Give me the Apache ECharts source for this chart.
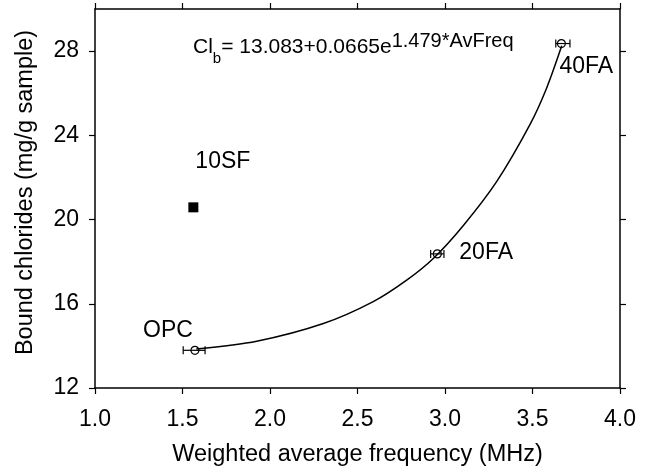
<!DOCTYPE html>
<html>
<head>
<meta charset="utf-8">
<script src="https://cdn.jsdelivr.net/npm/echarts@6/dist/echarts.min.js"></script>
<style>html,body{margin:0;padding:0;background:#fff}#c{width:649px;height:475px}</style>
</head>
<body>
<div id="c"></div>
<script>
// ---- data ----
const xTicks = [1.0, 1.5, 2.0, 2.5, 3.0, 3.5, 4.0];
const yTicks = [12, 16, 20, 24, 28];
const sampleNames = ['OPC', '20FA', '40FA'];
const sampleX = [1.571, 2.956, 3.665];
const sampleY = [13.79, 18.37, 28.36];
const sampleErrLeft = [1.504, 2.918, 3.633];
const sampleErrRight = [1.629, 2.994, 3.714];
const sfName = '10SF';
const sfX = [1.562];
const sfY = [20.58];
// fitted curve, points
const curveX = [1.579, 1.924, 2.305, 2.590, 2.781, 2.933, 3.105, 3.295, 3.486, 3.581, 3.667];
const curveY = [13.85, 14.22, 15.06, 16.10, 17.12, 18.15, 19.72, 21.80, 24.52, 26.25, 28.25];

const FONT = 'Liberation Sans, Arial, sans-serif';
const TXT = '#000';
const labelStyle = {
  'OPC':  {align: 'center', offset: [-27, -20]},
  '20FA': {align: 'left',   offset: [22, -1]},
  '40FA': {align: 'left',   offset: [-2, 23]},
  '10SF': {align: 'left',   offset: [2, -46]}
};
function pointLabel(n) {
  return {show: true, formatter: n, position: 'inside', color: TXT, fontSize: 23, fontFamily: FONT,
          textBorderWidth: 0, align: labelStyle[n].align, verticalAlign: 'middle', offset: labelStyle[n].offset};
}

const chart = echarts.init(document.getElementById('c'), null, {renderer: 'canvas'});

const axisLine = {show: true, onZero: false, lineStyle: {color: '#000', width: 1.5}};
const axisTick = {show: true, inside: false, length: 6, lineStyle: {color: '#000', width: 1.2}};

const sampleData = sampleNames.map((n, i) => ({
  name: n, value: [sampleX[i], sampleY[i]], label: pointLabel(n)
}));
const errData = sampleNames.map((n, i) => [sampleX[i], sampleY[i], sampleErrLeft[i], sampleErrRight[i]]);
const curveData = curveX.map((x, i) => [x, curveY[i]]);

chart.setOption({
  animation: false,
  backgroundColor: '#fff',
  textStyle: {fontFamily: FONT},
  grid: {left: 95, right: 29, top: 9, bottom: 87},
  xAxis: [{
    type: 'value', min: 1, max: 4, interval: 0.5, position: 'bottom',
    name: 'Weighted average frequency (MHz)', nameLocation: 'middle', nameGap: 55,
    nameTextStyle: {fontSize: 23.5, color: TXT, fontFamily: FONT},
    axisLine, axisTick: Object.assign({customValues: xTicks}, axisTick),
    axisLabel: {customValues: xTicks, fontSize: 23, color: TXT, margin: 20, fontFamily: FONT,
                formatter: v => v.toFixed(1)},
    splitLine: {show: false}
  }, {
    type: 'value', min: 1, max: 4, interval: 0.5, position: 'top',
    axisLine, axisTick: Object.assign({customValues: xTicks}, axisTick),
    axisLabel: {show: false}, splitLine: {show: false}
  }],
  yAxis: [{
    type: 'value', min: 12, max: 30, interval: 4, position: 'left',
    name: 'Bound chlorides (mg/g sample)', nameLocation: 'middle', nameGap: 57,
    nameTextStyle: {fontSize: 23.5, color: TXT, fontFamily: FONT, padding: [0, 0, 0, 12]},
    axisLine, axisTick: Object.assign({customValues: yTicks}, axisTick),
    axisLabel: {customValues: yTicks, fontSize: 23, color: TXT, margin: 16, fontFamily: FONT},
    splitLine: {show: false}
  }, {
    type: 'value', min: 12, max: 30, interval: 4, position: 'right',
    axisLine, axisTick: Object.assign({customValues: yTicks}, axisTick),
    axisLabel: {show: false}, splitLine: {show: false}
  }],
  graphic: [{
    type: 'text', left: 193, top: 31, z: 10,
    style: {
      text: '{m|Cl}{s|b}{m|= 13.083+0.0665e}{p|1.479*AvFreq}',
      rich: {
        m: {fontSize: 21, fontFamily: FONT, fill: TXT, verticalAlign: 'bottom', padding: [0, 0, 8, 0]},
        s: {fontSize: 15, fontFamily: FONT, fill: TXT, verticalAlign: 'bottom', padding: [0, 0, 0, 0]},
        p: {fontSize: 20, fontFamily: FONT, fill: TXT, verticalAlign: 'bottom', padding: [0, 0, 15, 0]}
      }
    }
  }],
  series: [{
    type: 'line', data: curveData, smooth: 0.3, showSymbol: false, z: 2,
    lineStyle: {color: '#000', width: 1.5}
  }, {
    type: 'custom', data: errData, z: 3,
    encode: {x: [0, 2, 3], y: 1},
    renderItem: function (params, api) {
      const y = api.value(1);
      const p1 = api.coord([api.value(2), y]);
      const p2 = api.coord([api.value(3), y]);
      const h = 4;
      const st = {stroke: '#000', lineWidth: 1.2};
      return {type: 'group', children: [
        {type: 'line', shape: {x1: p1[0], y1: p1[1], x2: p2[0], y2: p2[1]}, style: st},
        {type: 'line', shape: {x1: p1[0], y1: p1[1] - h, x2: p1[0], y2: p1[1] + h}, style: st},
        {type: 'line', shape: {x1: p2[0], y1: p2[1] - h, x2: p2[0], y2: p2[1] + h}, style: st}
      ]};
    }
  }, {
    type: 'scatter', data: sampleData, symbol: 'circle', symbolSize: 8, z: 4,
    itemStyle: {color: 'rgba(0,0,0,0)', borderColor: '#000', borderWidth: 1.2, opacity: 1}
  }, {
    type: 'scatter', symbol: 'rect', symbolSize: 10, z: 4,
    data: [{name: sfName, value: [sfX[0], sfY[0]], label: pointLabel(sfName)}],
    itemStyle: {color: '#000', opacity: 1}
  }]
});
</script>
</body>
</html>
